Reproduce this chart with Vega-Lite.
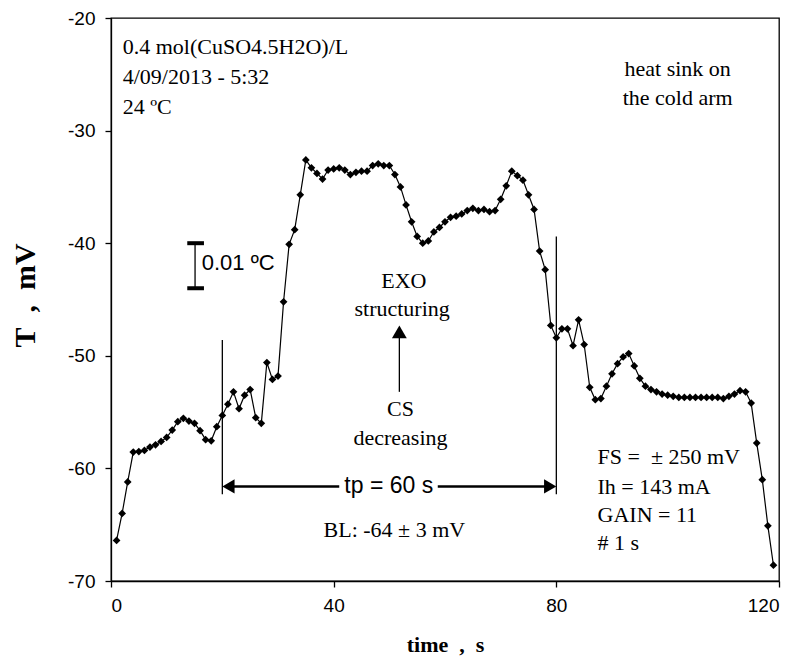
{
  "$schema": "https://vega.github.io/schema/vega-lite/v6.json",
  "width": 668,
  "height": 563,
  "autosize": "none",
  "padding": {"left": 111, "top": 18, "right": 21, "bottom": 76},
  "background": "white",
  "config": {
    "view": {"stroke": "black", "strokeWidth": 1.3},
    "axis": {"grid": false, "domainColor": "black", "domainWidth": 1.3, "tickColor": "black", "tickWidth": 1.3, "tickSize": 6, "labelColor": "black", "labelFont": "Liberation Sans", "labelFontSize": 19, "titleColor": "black", "titleFont": "Liberation Serif", "titleFontWeight": "bold"}
  },
  "datasets": {
    "series": [
      {"t":1,"v":-66.4},{"t":2,"v":-64.0},{"t":3,"v":-61.2},{"t":4,"v":-58.55},{"t":5,"v":-58.5},
      {"t":6,"v":-58.4},{"t":7,"v":-58.1},{"t":8,"v":-57.9},{"t":9,"v":-57.6},{"t":10,"v":-57.25},
      {"t":11,"v":-56.6},{"t":12,"v":-55.85},{"t":13,"v":-55.55},{"t":14,"v":-55.8},{"t":15,"v":-56.0},
      {"t":16,"v":-56.65},{"t":17,"v":-57.45},{"t":18,"v":-57.55},{"t":19,"v":-56.3},{"t":20,"v":-55.3},
      {"t":21,"v":-54.3},{"t":22,"v":-53.2},{"t":23,"v":-54.7},{"t":24,"v":-53.5},{"t":25,"v":-53.0},
      {"t":26,"v":-55.5},{"t":27,"v":-56.0},{"t":28,"v":-50.6},{"t":29,"v":-52.1},{"t":30,"v":-51.8},
      {"t":31,"v":-45.2},{"t":32,"v":-40.1},{"t":33,"v":-38.8},{"t":34,"v":-35.7},{"t":35,"v":-32.6},
      {"t":36,"v":-33.3},{"t":37,"v":-33.8},{"t":38,"v":-34.3},{"t":39,"v":-33.5},{"t":40,"v":-33.4},
      {"t":41,"v":-33.3},{"t":42,"v":-33.5},{"t":43,"v":-33.9},{"t":44,"v":-33.7},{"t":45,"v":-33.6},
      {"t":46,"v":-33.6},{"t":47,"v":-33.1},{"t":48,"v":-32.95},{"t":49,"v":-33.1},{"t":50,"v":-33.1},
      {"t":51,"v":-33.9},{"t":52,"v":-35.0},{"t":53,"v":-36.6},{"t":54,"v":-38.1},{"t":55,"v":-39.4},
      {"t":56,"v":-40.0},{"t":57,"v":-39.8},{"t":58,"v":-39.0},{"t":59,"v":-38.6},{"t":60,"v":-38.1},
      {"t":61,"v":-37.7},{"t":62,"v":-37.6},{"t":63,"v":-37.4},{"t":64,"v":-37.1},{"t":65,"v":-36.9},
      {"t":66,"v":-37.1},{"t":67,"v":-37.0},{"t":68,"v":-37.2},{"t":69,"v":-37.1},{"t":70,"v":-36.1},
      {"t":71,"v":-34.9},{"t":72,"v":-33.6},{"t":73,"v":-34.0},{"t":74,"v":-34.4},{"t":75,"v":-35.7},
      {"t":76,"v":-37.0},{"t":77,"v":-40.7},{"t":78,"v":-42.35},{"t":79,"v":-47.3},{"t":80,"v":-48.4},
      {"t":81,"v":-47.6},{"t":82,"v":-47.6},{"t":83,"v":-49.1},{"t":84,"v":-46.8},{"t":85,"v":-49.0},
      {"t":86,"v":-52.8},{"t":87,"v":-53.9},{"t":88,"v":-53.8},{"t":89,"v":-52.7},{"t":90,"v":-51.6},
      {"t":91,"v":-50.7},{"t":92,"v":-50.1},{"t":93,"v":-49.8},{"t":94,"v":-50.9},{"t":95,"v":-52.0},
      {"t":96,"v":-52.7},{"t":97,"v":-53.0},{"t":98,"v":-53.2},{"t":99,"v":-53.4},{"t":100,"v":-53.5},
      {"t":101,"v":-53.6},{"t":102,"v":-53.7},{"t":103,"v":-53.7},{"t":104,"v":-53.7},{"t":105,"v":-53.7},
      {"t":106,"v":-53.7},{"t":107,"v":-53.7},{"t":108,"v":-53.7},{"t":109,"v":-53.7},{"t":110,"v":-53.8},
      {"t":111,"v":-53.6},{"t":112,"v":-53.4},{"t":113,"v":-53.1},{"t":114,"v":-53.2},{"t":115,"v":-54.2},
      {"t":116,"v":-57.75},{"t":117,"v":-61.0},{"t":118,"v":-65.1},{"t":119,"v":-68.6}
    ],
    "thinRules": [
      {"x":20,"x2":20,"y":-48.6,"y2":-62.3},
      {"x":80,"x2":80,"y":-39.4,"y2":-62.3},
      {"x":15.1,"x2":15.1,"y":-40,"y2":-44},
      {"x":51.8,"x2":51.8,"y":-48.3,"y2":-53.2}
    ],
    "arrowLines": [
      {"x":21,"x2":41,"y":-61.6,"y2":-61.6},
      {"x":58.7,"x2":79,"y":-61.6,"y2":-61.6}
    ],
    "caps": [
      {"x":13.7,"x2":16.7,"y":-40,"y2":-40},
      {"x":13.7,"x2":16.7,"y":-44,"y2":-44}
    ],
    "headUp": [{"x":51.8,"y":-47.87}],
    "headLeft": [{"x":21.1,"y":-61.6}],
    "headRight": [{"x":78.9,"y":-61.6}],
    "serifLeft": [
      {"x":2.1,"y":-22.6,"label":"0.4 mol(CuSO4.5H2O)/L"},
      {"x":2.1,"y":-25.2,"label":"4/09/2013 - 5:32"},
      {"x":2.1,"y":-27.9,"label":"24 ºC"},
      {"x":87.4,"y":-59.0,"label":"FS =\u00a0 ± 250 mV"},
      {"x":87.4,"y":-61.66,"label":"Ih = 143 mA"},
      {"x":87.4,"y":-64.17,"label":"GAIN = 11"},
      {"x":87.4,"y":-66.66,"label":"# 1 s"}
    ],
    "serifCenter": [
      {"x":101.8,"y":-24.5,"label":"heat sink on"},
      {"x":101.8,"y":-27.1,"label":"the cold arm"},
      {"x":52.6,"y":-43.4,"label":"EXO"},
      {"x":52.3,"y":-45.8,"label":"structuring"},
      {"x":52,"y":-54.7,"label":"CS"},
      {"x":52,"y":-57.3,"label":"decreasing"},
      {"x":50.9,"y":-65.5,"label":"BL: -64 ± 3 mV"}
    ],
    "sansLeft": [{"x":16.3,"y":-41.8,"label":"0.01 ºC"}],
    "sansCenter": [{"x":49.9,"y":-61.6,"label":"tp = 60 s"}]
  },
  "layer": [
    {
      "data": {"name": "series"},
      "mark": {"type": "line", "color": "black", "strokeWidth": 1.2, "point": {"shape": "diamond", "filled": true, "size": 60, "color": "black"}},
      "encoding": {
        "x": {"field": "t", "type": "quantitative", "scale": {"domain": [0, 120], "nice": false, "zero": false},
              "axis": {"values": [0, 40, 80, 120], "labelPadding": 9, "title": "time\u00a0 ,\u00a0 s", "titleFontSize": 22, "titleY": 63, "titleBaseline": "middle"}},
        "y": {"field": "v", "type": "quantitative", "scale": {"domain": [-70, -20], "nice": false, "zero": false},
              "axis": {"values": [-70, -60, -50, -40, -30, -20], "labelExpr": "'' + datum.value", "labelPadding": 10, "title": "T\u00a0 ,\u00a0 mV", "titleFontSize": 30, "titleAngle": -90, "titleX": -86, "titleY": 277, "titleAlign": "center", "titleBaseline": "middle"}}
      }
    },
    {
      "data": {"name": "thinRules"},
      "mark": {"type": "rule", "color": "black", "strokeWidth": 1.3},
      "encoding": {"x": {"field": "x", "type": "quantitative"}, "x2": {"field": "x2"}, "y": {"field": "y", "type": "quantitative"}, "y2": {"field": "y2"}}
    },
    {
      "data": {"name": "arrowLines"},
      "mark": {"type": "rule", "color": "black", "strokeWidth": 2.5},
      "encoding": {"x": {"field": "x", "type": "quantitative"}, "x2": {"field": "x2"}, "y": {"field": "y", "type": "quantitative"}, "y2": {"field": "y2"}}
    },
    {
      "data": {"name": "caps"},
      "mark": {"type": "rule", "color": "black", "strokeWidth": 4},
      "encoding": {"x": {"field": "x", "type": "quantitative"}, "x2": {"field": "x2"}, "y": {"field": "y", "type": "quantitative"}, "y2": {"field": "y2"}}
    },
    {
      "data": {"name": "headUp"},
      "mark": {"type": "point", "shape": "triangle-up", "filled": true, "color": "black", "size": 220, "opacity": 1},
      "encoding": {"x": {"field": "x", "type": "quantitative"}, "y": {"field": "y", "type": "quantitative"}}
    },
    {
      "data": {"name": "headLeft"},
      "mark": {"type": "point", "shape": "triangle-left", "filled": true, "color": "black", "size": 200, "opacity": 1},
      "encoding": {"x": {"field": "x", "type": "quantitative"}, "y": {"field": "y", "type": "quantitative"}}
    },
    {
      "data": {"name": "headRight"},
      "mark": {"type": "point", "shape": "triangle-right", "filled": true, "color": "black", "size": 200, "opacity": 1},
      "encoding": {"x": {"field": "x", "type": "quantitative"}, "y": {"field": "y", "type": "quantitative"}}
    },
    {
      "data": {"name": "serifLeft"},
      "mark": {"type": "text", "font": "Liberation Serif", "fontSize": 22, "align": "left", "baseline": "middle", "color": "black"},
      "encoding": {"x": {"field": "x", "type": "quantitative"}, "y": {"field": "y", "type": "quantitative"}, "text": {"field": "label"}}
    },
    {
      "data": {"name": "serifCenter"},
      "mark": {"type": "text", "font": "Liberation Serif", "fontSize": 22, "align": "center", "baseline": "middle", "color": "black"},
      "encoding": {"x": {"field": "x", "type": "quantitative"}, "y": {"field": "y", "type": "quantitative"}, "text": {"field": "label"}}
    },
    {
      "data": {"name": "sansLeft"},
      "mark": {"type": "text", "font": "Liberation Sans", "fontSize": 22, "align": "left", "baseline": "middle", "color": "black"},
      "encoding": {"x": {"field": "x", "type": "quantitative"}, "y": {"field": "y", "type": "quantitative"}, "text": {"field": "label"}}
    },
    {
      "data": {"name": "sansCenter"},
      "mark": {"type": "text", "font": "Liberation Sans", "fontSize": 23, "align": "center", "baseline": "middle", "color": "black"},
      "encoding": {"x": {"field": "x", "type": "quantitative"}, "y": {"field": "y", "type": "quantitative"}, "text": {"field": "label"}}
    }
  ]
}
